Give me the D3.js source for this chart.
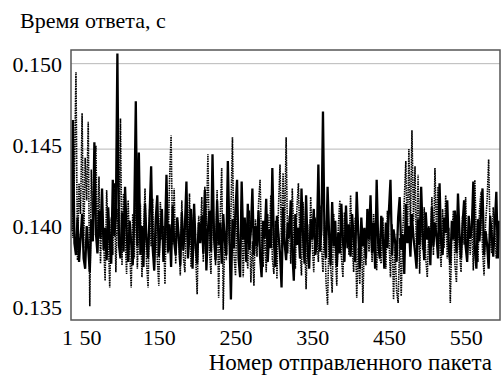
<!DOCTYPE html>
<html><head><meta charset="utf-8">
<script src="https://cdn.jsdelivr.net/npm/d3@7/dist/d3.min.js"></script>
<style>
html,body{margin:0;padding:0;background:#fff;}
svg{display:block;}
</style></head>
<body>
<svg id="chart" width="501" height="378"></svg>
<script>
// ---- data ----
const titleY = "Время ответа, с";
const titleX = "Номер отправленного пакета";
const packetFirst = 36, packetLast = 594, packetStep = 2;
const packets = d3.range(packetFirst, packetLast + 1, packetStep);
const xTicks = [1, 50, 150, 250, 350, 450, 550];
const yTicks = [0.135, 0.140, 0.145, 0.150];
const yGrid = [0.140, 0.145, 0.150];
// solid series
const seriesSolid = [
.1402,.1467,.1395,.1388,.1410,.1384,.1398,.1412,.1386,.1380,.1405,.1392,.1378,.1409,.1396,.1454,.1401,.1389,.1414,.1398,
.1427,.1391,.1404,.1385,.1416,.1396,.1383,.1432,.1399,.1410,.1506,.1394,.1386,.1413,.1390,.1428,.1402,.1384,.1408,.1395,
.1382,.1411,.1478,.1393,.1448,.1388,.1405,.1381,.1418,.1397,.1386,.1412,.1440,.1392,.1379,.1409,.1423,.1387,.1402,.1415,
.1384,.1398,.1435,.1390,.1406,.1381,.1417,.1396,.1388,.1410,.1399,.1382,.1413,.1391,.1404,.1431,.1386,.1400,.1415,.1380,
.1418,.1393,.1383,.1407,.1395,.1411,.1389,.1426,.1379,.1403,.1414,.1390,.1447,.1398,.1385,.1420,.1394,.1407,.1383,.1412,
.1396,.1388,.1443,.1401,.1362,.1409,.1392,.1415,.1432,.1386,.1375,.1431,.1397,.1410,.1384,.1418,.1391,.1402,.1427,.1388,
.1405,.1393,.1414,.1387,.1375,.1408,.1398,.1421,.1384,.1403,.1392,.1439,.1396,.1381,.1411,.1400,.1389,.1369,.1416,.1395,
.1385,.1407,.1398,.1420,.1390,.1373,.1412,.1394,.1404,.1386,.1427,.1399,.1383,.1423,.1391,.1380,.1409,.1397,.1415,.1388,
.1395,.1441,.1390,.1403,.1472,.1398,.1386,.1428,.1400,.1382,.1419,.1393,.1408,.1381,.1401,.1389,.1418,.1396,.1384,.1417,
.1392,.1406,.1387,.1412,.1398,.1384,.1425,.1401,.1380,.1410,.1393,.1404,.1386,.1415,.1397,.1423,.1389,.1407,.1380,.1432,
.1395,.1386,.1411,.1399,.1380,.1407,.1392,.1414,.1432,.1388,.1403,.1396,.1384,.1410,.1422,.1391,.1400,.1377,.1418,.1395,
.1405,.1387,.1412,.1398,.1390,.1380,.1409,.1394,.1428,.1401,.1385,.1413,.1397,.1404,.1382,.1416,.1393,.1407,.1399,.1386,
.1430,.1395,.1388,.1410,.1401,.1420,.1392,.1383,.1408,.1397,.1414,.1389,.1424,.1400,.1386,.1406,.1420,.1393,.1384,.1411,
.1398,.1404,.1431,.1391,.1380,.1409,.1396,.1413,.1427,.1388,.1402,.1394,.1380,.1411,.1399,.1387,.1406,.1425,.1386,.1408
];
// dotted series
const seriesDotted = [
.1442,.1398,.1436,.1495,.1385,.1430,.1412,.1471,.1392,.1445,.1420,.1466,.1358,.1438,.1405,.1443,.1452,.1390,.1434,.1383,
.1418,.1396,.1373,.1426,.1401,.1369,.1410,.1388,.1430,.1378,.1415,.1395,.1468,.1382,.1424,.1399,.1377,.1420,.1391,.1369,
.1412,.1386,.1425,.1380,.1404,.1418,.1375,.1398,.1427,.1384,.1369,.1415,.1393,.1421,.1379,.1408,.1386,.1370,.1419,.1397,
.1405,.1371,.1416,.1389,.1432,.1458,.1394,.1427,.1383,.1410,.1398,.1376,.1420,.1387,.1378,.1413,.1392,.1424,.1381,.1403,
.1415,.1388,.1365,.1411,.1396,.1422,.1384,.1428,.1405,.1447,.1390,.1377,.1418,.1399,.1382,.1426,.1363,.1410,.1439,.1356,
.1402,.1385,.1421,.1394,.1412,.1457,.1388,.1376,.1417,.1399,.1384,.1420,.1375,.1406,.1390,.1380,.1414,.1372,.1396,.1370,
.1409,.1387,.1418,.1432,.1393,.1381,.1404,.1378,.1412,.1395,.1423,.1386,.1377,.1408,.1374,.1416,.1441,.1392,.1436,.1401,
.1457,.1389,.1411,.1383,.1427,.1398,.1380,.1415,.1430,.1392,.1376,.1419,.1401,.1368,.1406,.1385,.1422,.1394,.1378,.1410,
.1399,.1384,.1417,.1393,.1378,.1408,.1372,.1359,.1402,.1381,.1366,.1412,.1389,.1370,.1405,.1420,.1387,.1375,.1413,.1396,
.1401,.1388,.1423,.1395,.1378,.1410,.1363,.1392,.1371,.1405,.1360,.1398,.1382,.1415,.1390,.1407,.1384,.1412,.1395,.1379,
.1404,.1386,.1383,.1410,.1389,.1380,.1414,.1397,.1375,.1406,.1362,.1393,.1367,.1360,.1398,.1364,.1402,.1420,.1443,.1395,
.1450,.1402,.1461,.1408,.1440,.1384,.1435,.1377,.1410,.1391,.1416,.1386,.1375,.1405,.1395,.1422,.1388,.1439,.1400,.1428,
.1397,.1381,.1415,.1392,.1423,.1386,.1404,.1360,.1399,.1414,.1383,.1372,.1408,.1390,.1378,.1411,.1394,.1422,.1385,.1403,
.1388,.1410,.1379,.1432,.1396,.1384,.1414,.1425,.1391,.1376,.1407,.1420,.1444,.1398,.1389,.1416,.1401,.1386,.1408,.1403
];

// ---- layout ----
const svg = d3.select("#chart");
const plot = {left: 71, right: 500, top: 50, bottom: 320};
const x = d3.scaleLinear().domain([0, 600]).range([43.75, 504]);
const y = d3.scaleLinear().domain([0.135, 0.1508]).range([plot.bottom, plot.top]);
const yLabel = d3.scaleLinear().domain([0.135, 0.150]).range([307.5, 64.5]);
const serif = '"Liberation Serif","Times New Roman","DejaVu Serif",serif';

svg.append("defs").append("clipPath").attr("id", "clip")
  .append("rect").attr("x", plot.left).attr("y", plot.top)
  .attr("width", plot.right - plot.left).attr("height", plot.bottom - plot.top);

// gridlines
svg.append("g").selectAll("line").data(yGrid).join("line")
  .attr("x1", plot.left).attr("x2", plot.right)
  .attr("y1", d => y(d)).attr("y2", d => y(d))
  .attr("stroke", "#b8b8b8").attr("stroke-width", 1);

const line = d3.line().x((d, i) => x(packets[i])).y(d => y(d));
const g = svg.append("g").attr("clip-path", "url(#clip)");
g.append("path").datum(seriesSolid).attr("d", line)
  .attr("fill", "none").attr("stroke", "#000").attr("stroke-width", 2.3)
  .attr("stroke-linejoin", "miter");
g.append("path").datum(seriesDotted).attr("d", line)
  .attr("fill", "none").attr("stroke", "#000").attr("stroke-width", 1.6)
  .attr("stroke-dasharray", "1.5,0.9");

// frame
svg.append("rect").attr("x", plot.left).attr("y", plot.top)
  .attr("width", plot.right - plot.left).attr("height", plot.bottom - plot.top)
  .attr("fill", "none").attr("stroke", "#555").attr("stroke-width", 1.5);

// y axis labels
const yAxis = svg.append("g").attr("transform", "translate(62,0)")
  .call(d3.axisLeft(yLabel).tickValues(yTicks).tickSize(0).tickPadding(0).tickFormat(d3.format(".3f")));
yAxis.attr("font-family", serif).attr("font-size", 22);
yAxis.select(".domain").remove();
yAxis.selectAll("text").attr("fill", "#000");

// x axis labels
const xNudge = {1: 22.5, 50: 8};
const xAxis = svg.append("g").attr("transform", "translate(0,345)")
  .call(d3.axisBottom(x).tickValues(xTicks).tickSize(0).tickPadding(0).tickFormat(d3.format("d")));
xAxis.attr("font-family", serif).attr("font-size", 22);
xAxis.select(".domain").remove();
xAxis.selectAll("text").attr("y", 0).attr("dy", 0)
  .attr("dx", d => xNudge[d] || 0).attr("fill", "#000");

// titles
svg.append("text").attr("x", 20).attr("y", 28).attr("font-family", serif).attr("font-size", 22).text(titleY);
svg.append("text").attr("x", 492).attr("y", 370).attr("text-anchor", "end").attr("font-family", serif).attr("font-size", 23).text(titleX);
</script>
</body></html>
